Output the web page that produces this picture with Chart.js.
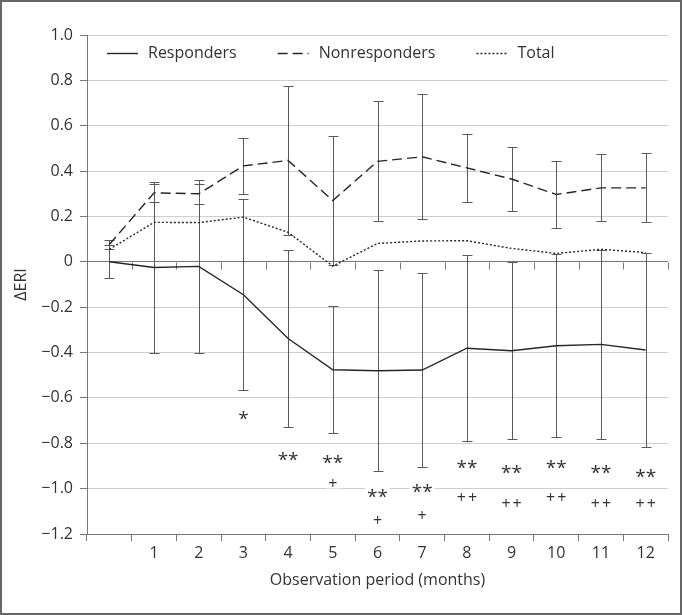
<!DOCTYPE html>
<html>
<head>
<meta charset="utf-8">
<title>ERI change over observation period</title>
<script src="https://cdn.jsdelivr.net/npm/chart.js@4.4.0/dist/chart.umd.min.js"></script>
<style>
    html, body { margin: 0; padding: 0; background: #fff; }
    #wrap { width: 682px; height: 615px; }
</style>
</head>
<body>
<div id="wrap"><canvas id="eri-chart" width="682" height="615"></canvas></div>
<script>
// Values (month 0 = baseline, no label)
const months = ['', '1', '2', '3', '4', '5', '6', '7', '8', '9', '10', '11', '12'];
const respondersMean = [0, -0.025, -0.02, -0.145, -0.338, -0.476, -0.48, -0.477, -0.381, -0.392, -0.37, -0.364, -0.389];
const respondersErr = [0.072, 0.375, 0.38, 0.42, 0.39, 0.28, 0.443, 0.426, 0.41, 0.39, 0.404, 0.416, 0.426];
const nonrespondersMean = [0.076, 0.304, 0.3, 0.423, 0.447, 0.27, 0.443, 0.463, 0.414, 0.365, 0.297, 0.326, 0.326];
const nonrespondersErr = [0.021, 0.041, 0.045, 0.125, 0.33, 0.285, 0.265, 0.276, 0.149, 0.143, 0.148, 0.148, 0.152];
const totalMean = [0.055, 0.174, 0.173, 0.197, 0.13, -0.019, 0.081, 0.092, 0.093, 0.059, 0.037, 0.055, 0.041];
const yTickValues = [-1.2, -1.0, -0.8, -0.6, -0.4, -0.2, 0, 0.2, 0.4, 0.6, 0.8, 1.0];

// Significance marks under each month
const starLabels = ['', '', '', '*', '**', '**', '**', '**', '**', '**', '**', '**', '**'];
const starY = [null, null, null, -0.676, -0.86, -0.871, -1.021, -0.999, -0.893, -0.914, -0.893, -0.914, -0.933];
const plusLabels = ['', '', '', '', '', '+', '+', '+', '++', '++', '++', '++', '++'];
const plusY = [null, null, null, null, null, -0.977, -1.138, -1.116, -1.036, -1.062, -1.036, -1.062, -1.062];

const fontFamily = '"Open Sans", "Noto Sans", sans-serif';
const axisGray = '#777';
const lineColor = '#262626';

Chart.defaults.font.family = fontFamily;
Chart.defaults.font.size = 16;
Chart.defaults.color = '#333';

// Error bars, plus the short ticks hanging off the zero line
const errorBars = {
    id: 'errorBars',
    beforeDatasetsDraw(chart) {
        const { ctx, scales: { x, y } } = chart;
        ctx.save();
        ctx.strokeStyle = axisGray;
        ctx.lineWidth = 1;
        ctx.beginPath();
        const zero = Math.round(y.getPixelForValue(0)) + 0.5;
        for (let i = 0; i <= months.length; i++) {
            const px = Math.round(x.getPixelForValue(i - 0.5)) + 0.5;
            ctx.moveTo(px, zero);
            ctx.lineTo(px, zero + 7);
        }
        ctx.stroke();

        ctx.strokeStyle = '#5a5a5a';
        [[respondersMean, respondersErr], [nonrespondersMean, nonrespondersErr]].forEach(([mean, err]) => {
            ctx.beginPath();
            mean.forEach((m, i) => {
                const px = Math.round(x.getPixelForValue(i)) + 0.5;
                const top = Math.round(y.getPixelForValue(m + err[i])) + 0.5;
                const bottom = Math.round(y.getPixelForValue(m - err[i])) + 0.5;
                ctx.moveTo(px, top);
                ctx.lineTo(px, bottom);
                ctx.moveTo(px - 5, top);
                ctx.lineTo(px + 5, top);
                ctx.moveTo(px - 5, bottom);
                ctx.lineTo(px + 5, bottom);
            });
            ctx.stroke();
        });
        ctx.restore();
    }
};

// Asterisks / plus signs, legend in the plot and the outer frame
const marksAndLegend = {
    id: 'marksAndLegend',
    afterDatasetsDraw(chart) {
        const { ctx, scales: { x, y }, chartArea } = chart;
        ctx.save();

        function drawMark(text, i, value, size, spacing) {
            if (!text || value === null) return;
            ctx.font = size + 'px ' + fontFamily;
            ctx.letterSpacing = spacing + 'px';
            ctx.textAlign = 'center';
            ctx.textBaseline = 'alphabetic';
            const m = ctx.measureText(text);
            const cx = x.getPixelForValue(i) + spacing / 2;
            const cy = y.getPixelForValue(value);
            const by = cy + (m.actualBoundingBoxAscent - m.actualBoundingBoxDescent) / 2;
            ctx.fillStyle = '#fff';
            ctx.fillRect(cx - m.width / 2 - 2, cy - (m.actualBoundingBoxAscent + m.actualBoundingBoxDescent) / 2 - 1,
                m.width + 4, m.actualBoundingBoxAscent + m.actualBoundingBoxDescent + 2);
            ctx.fillStyle = '#333';
            ctx.fillText(text, cx, by);
        }

        starLabels.forEach((t, i) => drawMark(t, i, starY[i], 19, 0));
        plusLabels.forEach((t, i) => drawMark(t, i, plusY[i], 16, 2));
        ctx.letterSpacing = '0px';

        // legend
        ctx.font = '16px ' + fontFamily;
        ctx.textAlign = 'left';
        ctx.textBaseline = 'middle';
        let lx = chartArea.left + 20;
        const ly = chartArea.top + 18.5;
        chart.data.datasets.forEach(ds => {
            ctx.strokeStyle = ds.borderColor;
            ctx.lineWidth = ds.borderWidth;
            ctx.setLineDash(ds.borderDash || []);
            ctx.beginPath();
            ctx.moveTo(lx, ly);
            ctx.lineTo(lx + 31, ly);
            ctx.stroke();
            ctx.setLineDash([]);
            ctx.fillStyle = '#333';
            ctx.fillText(ds.label, lx + 41, ly);
            lx += 41 + ctx.measureText(ds.label).width + 41;
        });

        ctx.strokeStyle = '#666';
        ctx.lineWidth = 2;
        ctx.strokeRect(1, 1, chart.width - 2, chart.height - 2);
        ctx.restore();
    }
};

const eriChart = new Chart(document.getElementById('eri-chart'), {
    type: 'line',
    data: {
        labels: months,
        datasets: [{
            label: 'Responders',
            data: respondersMean,
            borderColor: lineColor,
            borderWidth: 1.4,
            borderDash: [],
            pointRadius: 0,
            tension: 0,
            fill: false
        }, {
            label: 'Nonresponders',
            data: nonrespondersMean,
            borderColor: lineColor,
            borderWidth: 1.4,
            borderDash: [10, 5],
            pointRadius: 0,
            tension: 0,
            fill: false
        }, {
            label: 'Total',
            data: totalMean,
            borderColor: lineColor,
            borderWidth: 1.4,
            borderDash: [2, 2],
            pointRadius: 0,
            tension: 0,
            fill: false
        }]
    },
    options: {
        responsive: false,
        devicePixelRatio: 1,
        animation: false,
        layout: {
            padding: { top: 35, right: 14, left: 0, bottom: 0 }
        },
        plugins: {
            legend: { display: false },
            tooltip: { enabled: false }
        },
        scales: {
            x: {
                type: 'category',
                offset: true,
                grid: {
                    drawOnChartArea: false,
                    offset: true,
                    tickLength: 7,
                    tickColor: axisGray
                },
                border: { color: axisGray },
                ticks: { padding: 3, maxRotation: 0, autoSkip: false },
                title: {
                    display: true,
                    text: 'Observation period (months)',
                    font: { size: 16 },
                    padding: { top: 0, bottom: 25 }
                },
                afterFit: scale => { scale.height = 81; }
            },
            y: {
                min: -1.2,
                max: 1.0,
                afterBuildTicks: axis => {
                    axis.ticks = yTickValues.map(v => ({ value: v }));
                },
                grid: {
                    color: c => (c.tick && c.tick.value === 0 ? axisGray : '#cdcdcd'),
                    tickColor: axisGray,
                    tickLength: 7
                },
                border: { color: axisGray },
                ticks: {
                    padding: 7,
                    callback: v => (v === 0 ? '0' : v.toFixed(1).replace('-', '\u2212'))
                },
                title: {
                    display: true,
                    text: '\u0394ERI',
                    font: { size: 16 },
                    padding: { top: 12, bottom: 0 }
                },
                afterFit: scale => { scale.width = 87; }
            }
        }
    },
    plugins: [errorBars, marksAndLegend]
});
</script>
</body>
</html>
